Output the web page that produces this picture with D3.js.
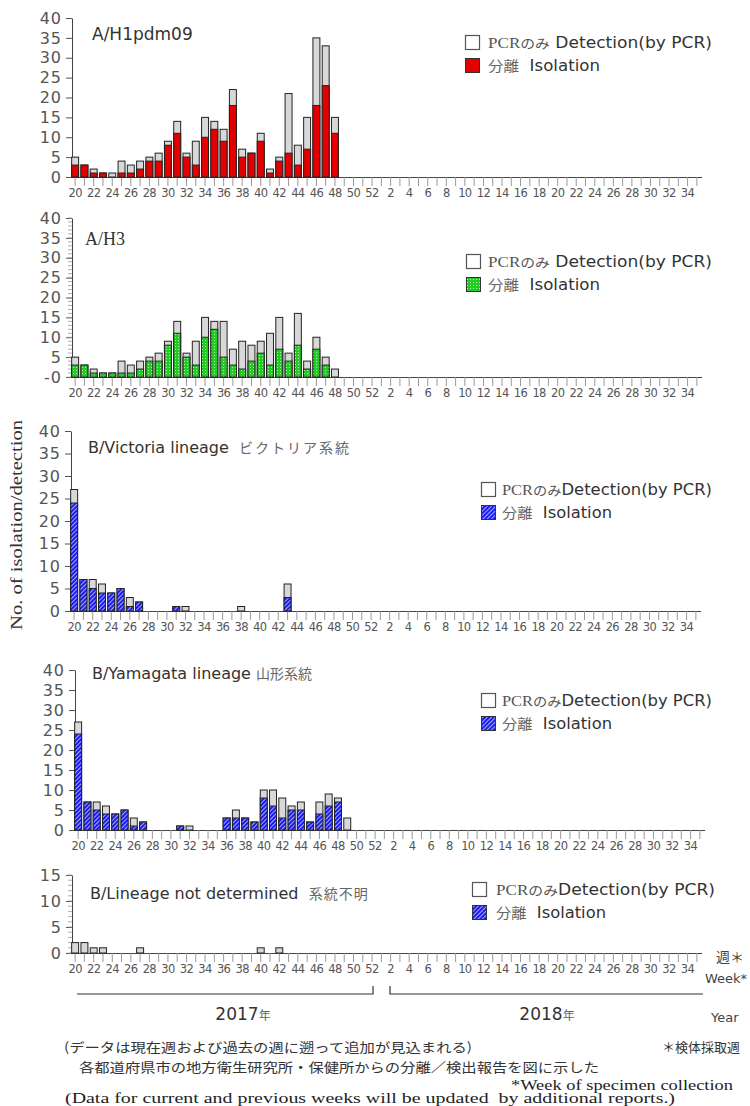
<!DOCTYPE html>
<html>
<head>
<meta charset="utf-8">
<script src="https://cdn.jsdelivr.net/npm/d3@7"></script>
<style>
  body { margin: 0; background: #fff; }
  svg { display: block; }
</style>
</head>
<body>
<svg id="chart" width="750" height="1106"></svg>
<script>
// ---- Week categories: 2017 w20–w52, then 2018 w1–w35 ----
const weeks2017 = d3.range(20, 53);
const weeks2018 = d3.range(1, 36);
const weekKeys = [...weeks2017.map(w => "2017-" + w), ...weeks2018.map(w => "2018-" + w)];
const weekNums = [...weeks2017, ...weeks2018];

// ---- Counts per week, starting at 2017 week 20 (total = isolation + PCR only) ----
const h1Total  = [5, 3, 2, 1, 1, 4, 3, 4, 5, 6, 9, 14, 6, 9, 15, 14, 12, 22, 7, 6, 11, 2, 5, 21, 8, 15, 35, 33, 15];
const h1Iso    = [3, 3, 1, 1, 0, 1, 1, 2, 4, 4, 8, 11, 5, 3, 10, 12, 9, 18, 5, 6, 9, 1, 4, 6, 3, 7, 18, 23, 11];

const h3Total  = [5, 3, 2, 1, 1, 4, 3, 4, 5, 6, 9, 14, 6, 9, 15, 14, 14, 7, 9, 8, 9, 11, 15, 6, 16, 4, 10, 5, 2];
const h3Iso    = [3, 3, 1, 1, 1, 1, 1, 2, 4, 4, 8, 11, 5, 3, 10, 12, 5, 3, 2, 4, 6, 3, 7, 4, 8, 2, 7, 3, 0];

const vicTotal = [27, 7, 7, 6, 4, 5, 3, 2, 0, 0, 0, 1, 1, 0, 0, 0, 0, 0, 1, 0, 0, 0, 0, 6];
const vicIso   = [24, 7, 5, 4, 4, 5, 1, 2, 0, 0, 0, 1, 0, 0, 0, 0, 0, 0, 0, 0, 0, 0, 0, 3];

const yamTotal = [27, 7, 7, 6, 4, 5, 3, 2, 0, 0, 0, 1, 1, 0, 0, 0, 3, 5, 3, 2, 10, 10, 8, 6, 7, 2, 7, 9, 8, 3];
const yamIso   = [24, 7, 5, 4, 4, 5, 1, 2, 0, 0, 0, 1, 0, 0, 0, 0, 3, 3, 3, 2, 8, 6, 3, 5, 5, 2, 4, 6, 7, 0];

const ndTotal  = [2, 2, 1, 1, 0, 0, 0, 1, 0, 0, 0, 0, 0, 0, 0, 0, 0, 0, 0, 0, 1, 0, 1];
const ndIso    = [0, 0, 0, 0, 0, 0, 0, 0, 0, 0, 0, 0, 0, 0, 0, 0, 0, 0, 0, 0, 0, 0, 0];

// ---- Panel layout ----
const panels = [
  { total: h1Total, iso: h1Iso, max: 40, step: 5, minor: false, top: 18, base: 177, dx: 0,
    fill: "#e40000", zeroLabel: "0",
    title: [["A/H1pdm09", "sans", 17, 0]], titleX: 92, titleY: 40,
    legX: 465, legY: 35, legTextX: 23, legSpace: true, legW1: 224, legW2: 112 },
  { total: h3Total, iso: h3Iso, max: 40, step: 5, minor: true, top: 218, base: 377, dx: 0,
    fill: "url(#dotGreen)", zeroLabel: "-0",
    title: [["A/H3", "serif", 18, 0]], titleX: 85, titleY: 245,
    legX: 466, legY: 254, legTextX: 22, legSpace: true, legW1: 224, legW2: 112 },
  { total: vicTotal, iso: vicIso, max: 40, step: 5, minor: false, top: 431, base: 611, dx: -1,
    fill: "url(#hatchBlue)", zeroLabel: "0",
    title: [["B/Victoria lineage  ", "sans", 16, 0], ["ビクトリア系統", "jp", 14, 2]], titleX: 88, titleY: 453,
    legX: 481, legY: 482, legTextX: 21, legSpace: false, legW1: 210, legW2: 110 },
  { total: yamTotal, iso: yamIso, max: 40, step: 5, minor: false, top: 670, base: 830, dx: 3,
    fill: "url(#hatchBlue)", zeroLabel: "0",
    title: [["B/Yamagata lineage ", "sans", 16, 0], ["山形系統", "jp", 14, 0]], titleX: 92, titleY: 679,
    legX: 481, legY: 693, legTextX: 21, legSpace: false, legW1: 210, legW2: 110 },
  { total: ndTotal, iso: ndIso, max: 15, step: 5, minor: true, top: 875, base: 953, dx: 0,
    fill: "url(#hatchBlue)", zeroLabel: "0",
    title: [["B/Lineage not determined  ", "sans", 16, 0], ["系統不明", "jp", 14, 1]], titleX: 90, titleY: 899,
    legX: 472, legY: 882, legTextX: 24, legSpace: false, legW1: 219, legW2: 110 }
];

const fonts = {
  sans: "'DejaVu Sans', 'Noto Sans', sans-serif",
  serif: "'Liberation Serif', 'DejaVu Serif', serif",
  jp: "'Noto Sans CJK JP', sans-serif"
};

const svg = d3.select("#chart");

// ---- Fill patterns for isolation bars ----
const defs = svg.append("defs");
const pg = defs.append("pattern").attr("id", "dotGreen").attr("patternUnits", "userSpaceOnUse")
  .attr("width", 3).attr("height", 3);
pg.append("rect").attr("width", 3).attr("height", 3).attr("fill", "#22cc22");
pg.append("rect").attr("x", 1).attr("y", 1).attr("width", 1).attr("height", 1).attr("fill", "#b8f0b8");

const pb = defs.append("pattern").attr("id", "hatchBlue").attr("patternUnits", "userSpaceOnUse")
  .attr("width", 3).attr("height", 3).attr("patternTransform", "rotate(45)");
pb.append("rect").attr("width", 3).attr("height", 3).attr("fill", "#1c1cf0");
pb.append("rect").attr("x", 0).attr("y", 0).attr("width", 1).attr("height", 3).attr("fill", "#9fa8ff");

// ---- Shared week scale ----
const x = d3.scaleBand().domain(weekKeys).range([70.5, 701.5]).paddingInner(0.25).paddingOuter(0.125);

panels.forEach(p => {
  const g = svg.append("g").attr("transform", `translate(${p.dx},0)`);
  const y = d3.scaleLinear().domain([0, p.max]).range([p.base, p.top]);

  const rows = p.total.map((t, i) => ({ key: weekKeys[i], total: t, iso: p.iso[i] || 0 }))
    .filter(d => d.total > 0);

  // y axis with major ticks
  const yAxis = d3.axisLeft(y).tickValues(d3.range(0, p.max + 1, p.step))
    .tickFormat(d => d === 0 ? p.zeroLabel : d).tickSize(6).tickSizeOuter(0).tickPadding(4);
  const ya = g.append("g").attr("transform", "translate(72,0)").call(yAxis);
  ya.select(".domain").attr("stroke", "#444");
  ya.selectAll(".tick line").attr("stroke", "#555");
  ya.selectAll(".tick text").attr("font-family", fonts.sans).attr("font-size", 16)
    .attr("letter-spacing", 1).attr("fill", "#555");

  if (p.minor) {
    g.append("g").selectAll("line").data(d3.range(0, p.max + 1)).join("line")
      .attr("x1", 68).attr("x2", 72).attr("y1", d => y(d)).attr("y2", d => y(d))
      .attr("stroke", "#999").attr("stroke-width", 0.8);
  }

  // x axis: tick every week, label every other week
  const xAxis = d3.axisBottom(x).tickSize(9).tickSizeOuter(0).tickPadding(3)
    .tickFormat((k, i) => weekNums[i] % 2 === 0 ? weekNums[i] : "");
  const xa = g.append("g").attr("transform", `translate(0,${p.base})`).call(xAxis);
  xa.select(".domain").attr("stroke", "#444").attr("stroke-width", 1.2);
  xa.selectAll(".tick line").attr("stroke", "#999");
  xa.selectAll(".tick text").attr("font-family", fonts.sans).attr("font-size", 11.5)
    .attr("letter-spacing", -0.6).attr("fill", "#555");

  // total (PCR-only part shows above isolation)
  g.append("g").selectAll("rect").data(rows).join("rect")
    .attr("x", d => x(d.key)).attr("width", x.bandwidth())
    .attr("y", d => y(d.total)).attr("height", d => y(0) - y(d.total))
    .attr("fill", "#d8d8d8").attr("stroke", "#222").attr("stroke-width", 1);

  // isolation segment
  g.append("g").selectAll("rect").data(rows.filter(d => d.iso > 0)).join("rect")
    .attr("x", d => x(d.key)).attr("width", x.bandwidth())
    .attr("y", d => y(d.iso)).attr("height", d => y(0) - y(d.iso))
    .attr("fill", p.fill).attr("stroke", "#222").attr("stroke-width", 1);

  // panel title
  const t = svg.append("text").attr("x", p.titleX).attr("y", p.titleY).attr("fill", "#333")
    .attr("xml:space", "preserve");
  p.title.forEach(([s, f, size, ls]) => {
    t.append("tspan").text(s).attr("font-family", fonts[f]).attr("font-size", size)
      .attr("letter-spacing", ls)
      .attr("fill", f === "jp" ? "#666" : null);
  });

  // legend
  const lg = svg.append("g").attr("transform", `translate(${p.legX},${p.legY})`);
  lg.append("rect").attr("x", 0.5).attr("y", 0.5).attr("width", 14).attr("height", 14)
    .attr("fill", "#fff").attr("stroke", "#555").attr("stroke-width", 1.2);
  const l1 = lg.append("text").attr("x", p.legTextX).attr("y", 12.5).attr("font-size", 15).attr("fill", "#333")
    .attr("textLength", p.legW1).attr("lengthAdjust", "spacingAndGlyphs");
  l1.append("tspan").text("PCR").attr("font-family", fonts.serif).attr("fill", "#555");
  l1.append("tspan").text("のみ").attr("font-family", fonts.jp).attr("font-size", 13).attr("fill", "#555");
  l1.append("tspan").text(p.legSpace ? " Detection(by PCR)" : "Detection(by PCR)").attr("font-family", fonts.sans);
  lg.append("rect").attr("x", 0.5).attr("y", 23.5).attr("width", 14).attr("height", 14)
    .attr("fill", p.fill).attr("stroke", "#333").attr("stroke-width", 1);
  const l2 = lg.append("text").attr("x", p.legTextX).attr("y", 35.5).attr("font-size", 15).attr("fill", "#333")
    .attr("xml:space", "preserve").attr("textLength", p.legW2).attr("lengthAdjust", "spacingAndGlyphs");
  l2.append("tspan").text("分離").attr("font-family", fonts.jp).attr("font-size", 14).attr("fill", "#666");
  l2.append("tspan").text("  Isolation").attr("font-family", fonts.sans);
});

// ---- Shared y axis title ----
svg.append("text").attr("transform", "translate(22,525) rotate(-90)")
  .attr("text-anchor", "middle").attr("font-family", fonts.serif).attr("font-size", 16)
  .attr("textLength", 210).attr("lengthAdjust", "spacingAndGlyphs")
  .attr("fill", "#333").text("No. of isolation/detection");

// ---- Week / year annotations ----
svg.append("text").attr("x", 716).attr("y", 962).attr("font-family", fonts.jp).attr("font-size", 14)
  .attr("fill", "#444").text("週＊");
svg.append("text").attr("x", 705).attr("y", 983).attr("font-family", fonts.sans).attr("font-size", 13)
  .attr("fill", "#444").text("Week*");

const bracket = svg.append("g").attr("stroke", "#333").attr("stroke-width", 1.2).attr("fill", "none");
bracket.append("path").attr("d", "M77,994H373V986");
bracket.append("path").attr("d", "M390,986V994H703");

function yearLabel(cx, yr) {
  const t = svg.append("text").attr("x", cx).attr("y", 1020).attr("text-anchor", "middle")
    .attr("fill", "#333");
  t.append("tspan").text(yr).attr("font-family", fonts.sans).attr("font-size", 17);
  t.append("tspan").text("年").attr("font-family", fonts.jp).attr("font-size", 12).attr("fill", "#666");
}
yearLabel(243, "2017");
yearLabel(547, "2018");
svg.append("text").attr("x", 711).attr("y", 1022).attr("font-family", fonts.sans).attr("font-size", 13)
  .attr("fill", "#444").text("Year");

// ---- Notes ----
svg.append("text").attr("x", 64).attr("y", 1052).attr("font-family", fonts.jp).attr("font-size", 13)
  .attr("fill", "#333").attr("textLength", 408).attr("lengthAdjust", "spacingAndGlyphs")
  .text("(データは現在週および過去の週に遡って追加が見込まれる)");
svg.append("text").attr("x", 662).attr("y", 1052).attr("font-family", fonts.jp).attr("font-size", 13)
  .attr("fill", "#333").text("＊検体採取週");
svg.append("text").attr("x", 79).attr("y", 1072).attr("font-family", fonts.jp).attr("font-size", 13)
  .attr("fill", "#333").attr("textLength", 520).attr("lengthAdjust", "spacingAndGlyphs")
  .text("各都道府県市の地方衛生研究所・保健所からの分離／検出報告を図に示した");
svg.append("text").attr("x", 733).attr("y", 1090).attr("text-anchor", "end").attr("font-family", fonts.serif)
  .attr("font-size", 15).attr("fill", "#222").attr("textLength", 222).attr("lengthAdjust", "spacingAndGlyphs")
  .text("*Week of specimen collection");
svg.append("text").attr("x", 65).attr("y", 1103).attr("font-family", fonts.serif).attr("font-size", 14)
  .attr("fill", "#222").attr("xml:space", "preserve").attr("textLength", 610).attr("lengthAdjust", "spacingAndGlyphs")
  .text("(Data for current and previous weeks will be updated  by additional reports.)");
</script>
</body>
</html>
